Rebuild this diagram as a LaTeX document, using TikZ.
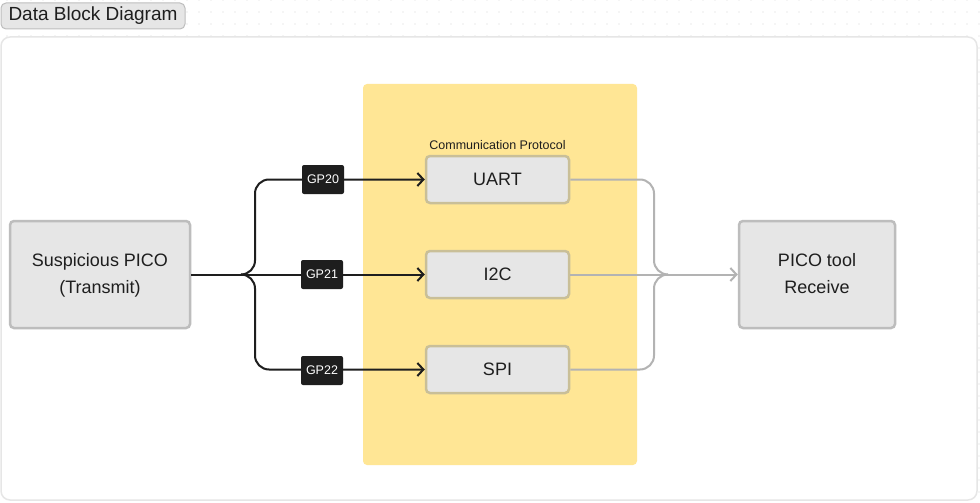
\documentclass[tikz,border=0pt]{standalone}
\usepackage{fontspec}
\setmainfont{Liberation Sans}
\usetikzlibrary{arrows.meta}
\definecolor{ink}{HTML}{1E1E1E}
\definecolor{boxfill}{HTML}{E6E6E6}
\definecolor{boxline}{HTML}{BDBDBD}
\definecolor{boxlineY}{HTML}{C9BF98}
\definecolor{yel}{HTML}{FFE695}
\definecolor{wire}{HTML}{B3B3B3}
\definecolor{frameline}{HTML}{E6E6E6}
\definecolor{dotc}{HTML}{D4D4D4}
\tikzset{
  blockbox/.style={draw=boxline, fill=boxfill, line width=2.5pt, rounded corners=4pt,
    inner sep=0pt, font=\fontsize{18}{27}\selectfont, text=ink, align=center},
  protobox/.style={blockbox, draw=boxlineY, minimum width=143pt, minimum height=47pt},
  gptag/.style={fill=ink, text=white, rounded corners=2pt, inner sep=0pt,
    minimum width=42pt, minimum height=29pt, font=\fontsize{12.5}{14}\selectfont},
  blackwire/.style={draw=ink, line width=2pt, rounded corners=14pt},
  graywire/.style={draw=wire, line width=2pt, rounded corners=14pt},
  openarrow/.style={-{Straight Barb[length=6pt,width=13pt,line width=2pt]}},
}
\begin{document}
\begin{tikzpicture}[x=1pt,y=-1pt]
\useasboundingbox (0,0) rectangle (980,503);
% dot grid
\foreach \i in {0,...,81} {
  \foreach \j in {0,...,42} {
    \fill[dotc] (7+12*\i,12*\j) circle (0.6pt);
  }
}
% frame
\draw[frameline, fill=white, line width=1.5pt, rounded corners=9pt] (1,37) rectangle (977,500);
% title
\node[draw=boxline, fill=boxfill, line width=1pt, rounded corners=5pt, inner sep=0pt,
  minimum width=184pt, minimum height=26pt, font=\fontsize{19}{20}\selectfont, text=ink]
  (title) at (93,16) {Data Block Diagram};
% yellow section
\fill[yel, rounded corners=4pt] (363,84) rectangle (637,465);
\node[font=\fontsize{12.5}{14}\selectfont, text=ink, anchor=south] (cplabel) at (497.5,153) {Communication Protocol};
% blocks
\node[blockbox, minimum width=180pt, minimum height=107pt] (susp) at (100,274.5) {\raisebox{-2pt}{\begin{tabular}{@{}c@{}}Suspicious PICO\\(Transmit)\end{tabular}}};
\node[blockbox, minimum width=156pt, minimum height=107pt] (pico) at (817,274.5) {\raisebox{-2pt}{\begin{tabular}{@{}c@{}}PICO tool\\Receive\end{tabular}}};
\node[protobox] (uart) at (497.5,179.5) {UART};
\node[protobox] (i2c) at (497.5,274.5) {I2C};
\node[protobox] (spi) at (497.5,369.5) {SPI};
% split / merge points
\coordinate (split) at (241,274.5);
\coordinate (merge) at (668,274.5);
% black wires
\draw[blackwire] (susp.east) -- (split);
\draw[blackwire, openarrow] (split) -- (255,274.5) -- (255,179.5) -- (uart.west);
\draw[blackwire, openarrow] (split) -- (i2c.west);
\draw[blackwire, openarrow] (split) -- (255,274.5) -- (255,369.5) -- (spi.west);
% gray wires
\draw[graywire] (uart.east) -- (654,179.5) -- (654,274.5) -- (merge);
\draw[graywire] (spi.east) -- (654,369.5) -- (654,274.5) -- (merge);
\draw[graywire, openarrow, draw=wire] (i2c.east) -- (pico.west);
% GP tags
\node[gptag] (gp20) at (323,179.5) {GP20};
\node[gptag] (gp21) at (322,274.5) {GP21};
\node[gptag] (gp22) at (322,370.5) {GP22};
\end{tikzpicture}
\end{document}
